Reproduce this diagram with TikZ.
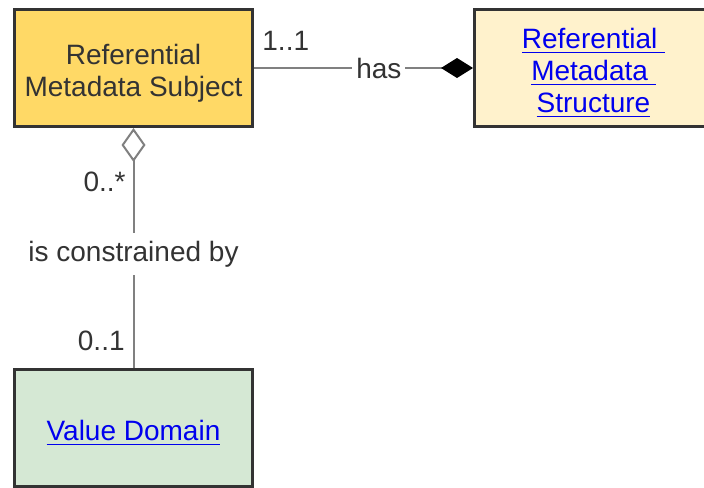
\documentclass[tikz,border=0pt]{standalone}
\usepackage{fontspec}
\setmainfont{Liberation Sans}
\usepackage{xcolor}
\usetikzlibrary{arrows.meta}

\definecolor{subjfill}{HTML}{FFD966}
\definecolor{structfill}{HTML}{FFF2CC}
\definecolor{domainfill}{HTML}{D5E8D4}
\definecolor{linkblue}{HTML}{0000EE}
\definecolor{boxline}{HTML}{333333}
\definecolor{assocline}{HTML}{808080}

\newcommand{\linktext}[1]{\textcolor{linkblue}{\underline{#1}}}
\newcommand{\toppad}{\rule{0pt}{15pt}}

\begin{document}
\begin{tikzpicture}[x=0.5pt,y=-0.5pt,
    font=\fontsize{14}{16}\selectfont,
    umlclass/.style={draw=boxline,line width=1.5pt,minimum width=119pt,
        minimum height=58.5pt,align=center,text=boxline},
    assoc/.style={draw=assocline,line width=1pt},
    mult/.style={text=boxline,inner sep=1pt}]
\useasboundingbox (0,0) rectangle (704,487);
\clip (0,0) rectangle (704,487);
\path
    (133.5,68) node [umlclass,fill=subjfill] (subject)
        {\toppad Referential\\Metadata Subject}
    (593.5,68) node [umlclass,fill=structfill] (structure)
        {\toppad\linktext{Referential\ }\\\linktext{Metadata\ }\\\linktext{Structure}}
    (133.5,428) node [umlclass,fill=domainfill] (domain)
        {\toppad\linktext{Value Domain}};
\draw
    [assoc,-{Diamond[length=16pt,width=10pt,color=black]}]
    (subject.east) -- node [pos=0.57,fill=white,inner xsep=2pt,text=boxline] {has}
    (structure.west);
\draw
    [assoc,{Diamond[open,fill=white,length=17pt,width=12pt]}-]
    (subject.south) -- node [pos=0.525,fill=white,inner sep=4pt,text=boxline] {is constrained by}
    (domain.north);
\path
    (subject.east) node [mult,anchor=base west,xshift=3pt,yshift=9pt] {1..1}
    (subject.south) node [mult,anchor=base east,xshift=-2.75pt,yshift=-31.5pt] {0..*}
    (domain.north) node [mult,anchor=base east,xshift=-3.25pt,yshift=9pt] {0..1};
\end{tikzpicture}
\end{document}
